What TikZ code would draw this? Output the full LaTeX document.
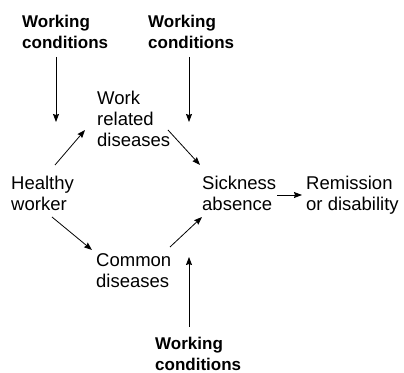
\documentclass[tikz,border=0pt]{standalone}
\usepackage{fontspec}
\setmainfont{Liberation Sans}
\usetikzlibrary{arrows.meta}

\begin{document}
\begin{tikzpicture}[x=1bp, y=1bp,
		  every node/.style = {inner sep=0pt, anchor=base west, align=left, font=\fontsize{18.5bp}{21bp}\selectfont},
		  cond/.style = {font=\fontsize{17bp}{21bp}\selectfont\bfseries},
		  arr/.style = {draw, line width=0.8pt, -{Stealth[length=8bp, width=6bp, inset=1bp]}}
		]
		  \useasboundingbox (0,0) rectangle (404,373);

		  \node[cond] (condA) at (22,325) {Working\\conditions};
		  \node[cond] (condB) at (148,325) {Working\\conditions};
		  \node[cond] (condC) at (155,3) {Working\\conditions};

		  \node (workrel) at (97,227) {Work\\related\\diseases};
		  \node (healthy) at (11,163) {Healthy\\worker};
		  \node (sickness) at (202,163) {Sickness\\absence};
		  \node (remission) at (306,163) {Remission\\or disability};
		  \node (common) at (96,86) {Common\\diseases};

		  \coordinate (tipA) at (56,251);
		  \coordinate (tipB) at (189,251);
		  \coordinate (tipC) at (189,116);

		  \draw[arr] ([shift={(34,-9)}]condA.base west) -- (tipA);
		  \draw[arr] ([shift={(41,-9)}]condB.base west) -- (tipB);
		  \draw[arr] ([shift={(34,43)}]condC.base west) -- (tipC);

		  \draw[arr] ([shift={(44,45)}]healthy.base west) -- ([shift={(-12,16)}]workrel.base west);
		  \draw[arr] ([shift={(71,16)}]workrel.base west) -- ([shift={(-2,45)}]sickness.base west);
		  \draw[arr] ([shift={(41,-7)}]healthy.base west) -- ([shift={(-4,37)}]common.base west);
		  \draw[arr] ([shift={(74,40)}]common.base west) -- ([shift={(0,-7)}]sickness.base west);
		  \draw[arr] ([shift={(75,15)}]sickness.base west) -- ([shift={(-4,15)}]remission.base west);
		\end{tikzpicture}
\end{document}
